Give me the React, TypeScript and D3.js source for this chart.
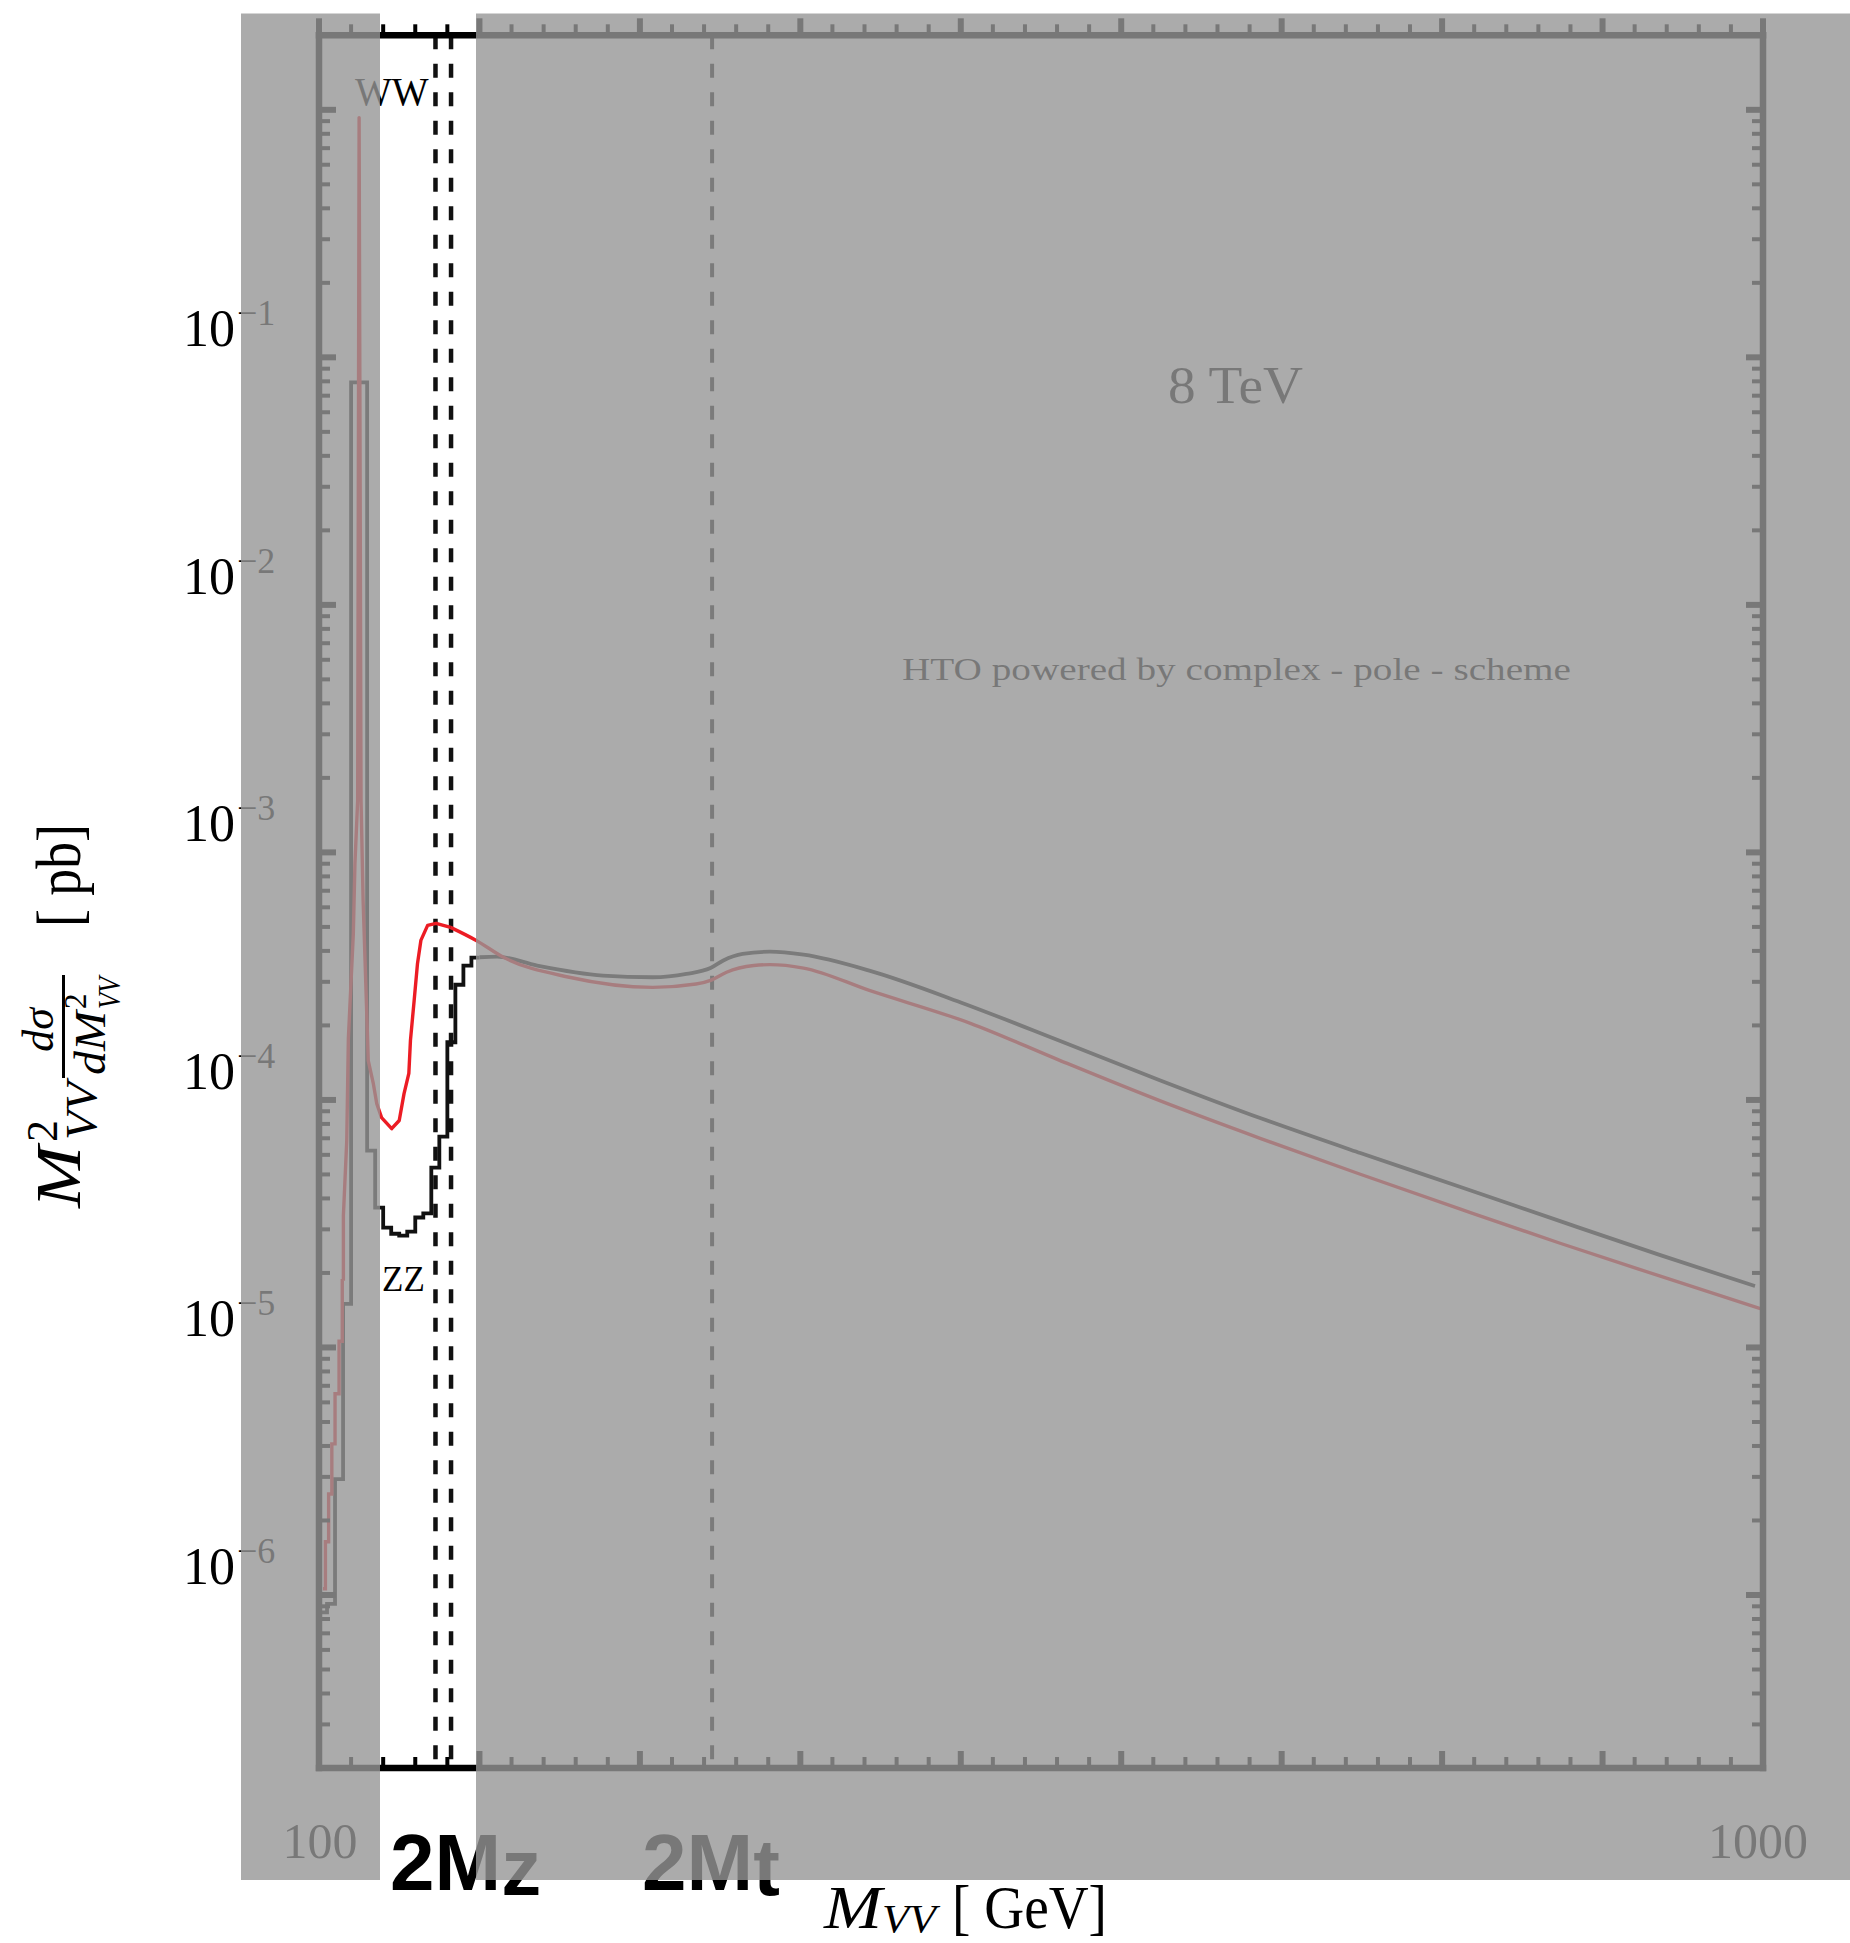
import React from 'react';
import * as d3 from 'd3';

const WIDTH = 1850;
const HEIGHT = 1943;

// Axis domains
const massDomain: [number, number] = [100, 1000];
const sigmaDomain: [number, number] = [2e-7, 2];

// Tick positions
const massMajorTicks = [100, 200, 300, 400, 500, 600, 700, 800, 900, 1000];
const massMinorSteps = [20, 40, 60, 80];
const sigmaDecades = [1e-6, 1e-5, 1e-4, 1e-3, 1e-2, 1e-1, 1];
const sigmaMinorFactors = [2, 3, 4, 5, 6, 7, 8, 9];
const sigmaLabelExponents = [-1, -2, -3, -4, -5, -6];
const massTickLabels = [
  { m: 100, text: '100', shift: 1 },
  { m: 1000, text: '1000', shift: -5 },
];

// Threshold markers (GeV)
const zzThresholds = [172.6, 182.3];
const topThreshold = 345;

// ZZ histogram near the Higgs peak (bin edges in GeV, contents in pb)
const zzBinEdges = [100, 105, 110, 115, 120, 130, 135, 140, 145, 150, 155, 160, 165, 170, 175, 180, 185, 190, 195, 200];
const zzBinValues = [8.5e-7, 9.2e-7, 2.94e-6, 1.5e-5, 0.0792, 6.24e-5, 3.67e-5, 3.05e-5, 2.88e-5, 2.83e-5, 2.94e-5, 3.35e-5, 3.48e-5, 5.33e-5, 7.11e-5, 1.71e-4, 2.92e-4, 3.49e-4, 3.76e-4];

// ZZ continuum above 200 GeV
const zzMass = [200, 211, 236, 277, 308, 329, 344, 352, 364, 381, 402, 443, 500, 562, 624, 687, 749, 811, 874, 936, 995];
const zzValues = [3.77e-4, 3.79e-4, 3.49e-4, 3.18e-4, 3.13e-4, 3.23e-4, 3.41e-4, 3.66e-4, 3.89e-4, 3.97e-4, 3.86e-4, 3.33e-4, 2.477e-4, 1.73e-4, 1.202e-4, 8.43e-5, 6.1e-5, 4.46e-5, 3.23e-5, 2.36e-5, 1.77e-5];

// WW line shape: binned rise below 115 GeV, then the resonance and continuum
const wwBinMass = [102.5, 104, 106, 108, 110, 112.5, 114.5, 115.2];
const wwBinValues = [1.06e-6, 1.64e-6, 2.56e-6, 4.08e-6, 6.5e-6, 1.06e-5, 1.86e-5, 1.86e-5];
const wwMass = [115.2, 117.3, 118.3, 121.4, 122.4, 124.1, 125, 126.2, 127.5, 128.7, 130.7, 133.9, 136, 139, 145.3, 150, 153, 156, 157, 159.3, 161.4, 163.5, 167.7, 173, 182, 198, 215, 256, 308, 335, 344.5, 354, 371, 381, 402, 443, 506, 562, 624, 687, 749, 811, 874, 936, 999];
const wwValues = [3.41e-5, 6.85e-5, 1.77e-4, 4.7e-4, 9.0e-4, 1.62e-3, 0.93, 1.62e-3, 6.38e-4, 3.66e-4, 1.44e-4, 1.16e-4, 9.66e-5, 8.48e-5, 7.65e-5, 8.26e-5, 1.06e-4, 1.28e-4, 1.74e-4, 2.52e-4, 3.56e-4, 4.41e-4, 5.07e-4, 5.17e-4, 4.98e-4, 4.41e-4, 3.77e-4, 3.13e-4, 2.85e-4, 2.94e-4, 3.05e-4, 3.28e-4, 3.49e-4, 3.52e-4, 3.41e-4, 2.77e-4, 2.04e-4, 1.442e-4, 9.93e-5, 6.98e-5, 5.01e-5, 3.63e-5, 2.63e-5, 1.94e-5, 1.43e-5];

const SERIF = "'Liberation Serif', 'DejaVu Serif', serif";
const SANS = "'Liberation Sans', Arial, sans-serif";

export default function App() {
  const x = d3.scaleLinear().domain(massDomain).range([319, 1763]);
  const y = d3.scaleLog().domain(sigmaDomain).range([1768, 35.3]);

  const left = x(massDomain[0]);
  const right = x(massDomain[1]);
  const top = y(sigmaDomain[1]);
  const bottom = y(sigmaDomain[0]);

  const stepLine = d3
    .line<[number, number]>()
    .x((d) => x(d[0]))
    .y((d) => y(d[1]))
    .curve(d3.curveStepAfter);
  const smoothLine = d3
    .line<[number, number]>()
    .x((d) => x(d[0]))
    .y((d) => y(d[1]))
    .curve(d3.curveMonotoneX);
  const plainLine = d3
    .line<[number, number]>()
    .x((d) => x(d[0]))
    .y((d) => y(d[1]));

  const zzHist: [number, number][] = zzBinValues.map((v, i) => [zzBinEdges[i], v]);
  zzHist.push([zzBinEdges[zzBinEdges.length - 1], zzBinValues[zzBinValues.length - 1]]);
  const zzCont: [number, number][] = zzMass.map((m, i) => [m, zzValues[i]]);
  const wwBins: [number, number][] = wwBinMass.map((m, i) => [m, wwBinValues[i]]);
  const wwAll: [number, number][] = wwMass.map((m, i) => [m, wwValues[i]]);
  // the resonance part continues from the last binned point
  const wwLow: [number, number][] = [wwBins[wwBins.length - 1], ...wwAll.filter((d) => d[0] <= 182)];
  const wwHigh = wwAll.filter((d) => d[0] >= 182);

  const massMinorTicks: number[] = [];
  massMajorTicks.slice(0, -1).forEach((m) => massMinorSteps.forEach((s) => massMinorTicks.push(m + s)));

  const sigmaMinorTicks: number[] = [];
  [1e-7, ...sigmaDecades].forEach((d) =>
    sigmaMinorFactors.forEach((f) => {
      const v = d * f;
      if (v > sigmaDomain[0] * 1.0001 && v < sigmaDomain[1] * 0.9999) sigmaMinorTicks.push(v);
    })
  );

  const axisColor = '#000';
  const majorLen = 17;
  const minorLen = 11;

  return (
    <svg
      width={WIDTH}
      height={HEIGHT}
      viewBox={`0 0 ${WIDTH} ${HEIGHT}`}
      style={{ position: 'absolute', left: 0, top: 0, background: '#fff' }}
    >
      {/* threshold markers */}
      {zzThresholds.map((m) => (
        <line key={m} x1={x(m)} x2={x(m)} y1={top} y2={bottom} stroke="#111" strokeWidth={4.5} strokeDasharray="14 14.5" />
      ))}
      <line x1={x(topThreshold)} x2={x(topThreshold)} y1={top} y2={bottom} stroke="#111" strokeWidth={4} strokeDasharray="14 14.5" />

      {/* curves */}
      <path d={stepLine(zzHist) ?? ''} fill="none" stroke="#111" strokeWidth={3.8} />
      <path d={smoothLine(zzCont) ?? ''} fill="none" stroke="#111" strokeWidth={3.8} />
      <path d={stepLine(wwBins) ?? ''} fill="none" stroke="#ec1c24" strokeWidth={3.4} />
      <path d={plainLine(wwLow) ?? ''} fill="none" stroke="#ec1c24" strokeWidth={3.4} strokeLinejoin="round" />
      <path d={smoothLine(wwHigh) ?? ''} fill="none" stroke="#ec1c24" strokeWidth={3.4} />

      {/* frame */}
      <g stroke={axisColor} strokeWidth={6.5} strokeLinecap="square">
        <line x1={left} x2={right} y1={bottom} y2={bottom} />
        <line x1={left} x2={right} y1={top} y2={top} />
        <line x1={left} x2={left} y1={top} y2={bottom} />
        <line x1={right} x2={right} y1={top} y2={bottom} />
      </g>

      {/* mass ticks (both pointing up) and cross-section ticks (pointing inward) */}
      <g stroke={axisColor}>
        {massMajorTicks.map((m) => (
          <g key={`M${m}`} strokeWidth={6}>
            <line x1={x(m)} x2={x(m)} y1={bottom} y2={bottom - majorLen} />
            <line x1={x(m)} x2={x(m)} y1={top} y2={top - majorLen} />
          </g>
        ))}
        {massMinorTicks.map((m) => (
          <g key={`m${m}`} strokeWidth={4}>
            <line x1={x(m)} x2={x(m)} y1={bottom} y2={bottom - minorLen} />
            <line x1={x(m)} x2={x(m)} y1={top} y2={top - minorLen} />
          </g>
        ))}
        {sigmaDecades.map((v) => (
          <g key={`S${v}`} strokeWidth={6}>
            <line x1={left} x2={left + majorLen} y1={y(v)} y2={y(v)} />
            <line x1={right} x2={right - majorLen} y1={y(v)} y2={y(v)} />
          </g>
        ))}
        {sigmaMinorTicks.map((v) => (
          <g key={`s${v}`} strokeWidth={4}>
            <line x1={left} x2={left + minorLen} y1={y(v)} y2={y(v)} />
            <line x1={right} x2={right - minorLen} y1={y(v)} y2={y(v)} />
          </g>
        ))}
      </g>

      {/* cross-section tick labels */}
      {sigmaLabelExponents.map((e) => {
        const yy = y(Math.pow(10, e)) - 11;
        return (
          <g key={`L${e}`} fontFamily={SERIF} fill="#000">
            <text x={235} y={yy} fontSize={52} textAnchor="end">10</text>
            <text x={237} y={yy - 21} fontSize={36}>{`\u2212${-e}`}</text>
          </g>
        );
      })}

      {/* mass tick labels */}
      {massTickLabels.map((t) => (
        <text key={t.text} x={x(t.m) + t.shift} y={1858} fontSize={50} fontFamily={SERIF} textAnchor="middle" fill="#000">
          {t.text}
        </text>
      ))}

      {/* annotations */}
      <text x={355} y={105} fontSize={39} fontFamily={SERIF} fill="#000">WW</text>
      <text x={382} y={1291} fontSize={35} fontFamily={SERIF} fill="#000">ZZ</text>
      <text x={1168} y={403} fontSize={52} fontFamily={SERIF} fill="#000" textLength={135} lengthAdjust="spacingAndGlyphs">
        8 TeV
      </text>
      <text x={902} y={680} fontSize={32} fontFamily={SERIF} fill="#000" textLength={669} lengthAdjust="spacingAndGlyphs">
        HTO powered by complex - pole - scheme
      </text>

      <text x={390} y={1890} fontSize={80} fontFamily={SANS} fontWeight="bold" fill="#000">
        2M<tspan dy={5}>z</tspan>
      </text>
      <text x={642} y={1890} fontSize={80} fontFamily={SANS} fontWeight="bold" fill="#000">
        2M<tspan dy={5}>t</tspan>
      </text>

      {/* x-axis title */}
      <g fontFamily={SERIF} fill="#000">
        <text x={824} y={1928} fontSize={62} fontStyle="italic" textLength={58} lengthAdjust="spacingAndGlyphs">M</text>
        <text x={882} y={1932} fontSize={40} fontStyle="italic" textLength={54} lengthAdjust="spacingAndGlyphs">VV</text>
        <text x={952} y={1928} fontSize={62} textLength={155} lengthAdjust="spacingAndGlyphs">[ GeV]</text>
      </g>

      {/* y-axis title */}
      <g transform="translate(80,1208) rotate(-90)" fontFamily={SERIF} fill="#000">
        <text x={0} y={0} fontSize={63} fontStyle="italic" textLength={62} lengthAdjust="spacingAndGlyphs">M</text>
        <text x={66} y={-23} fontSize={44}>2</text>
        <text x={68} y={16} fontSize={44} fontStyle="italic" textLength={58} lengthAdjust="spacingAndGlyphs">VV</text>
        <text x={178} y={-27} fontSize={44} fontStyle="italic" textAnchor="middle">dσ</text>
        <line x1={130} x2={233} y1={-16.5} y2={-16.5} stroke="#000" strokeWidth={3} />
        <text x={133} y={25} fontSize={44} fontStyle="italic" textLength={64} lengthAdjust="spacingAndGlyphs">dM</text>
        <text x={199} y={6} fontSize={31}>2</text>
        <text x={199} y={40} fontSize={31} fontStyle="italic" textLength={32} lengthAdjust="spacingAndGlyphs">VV</text>
        <text x={281} y={0} fontSize={63} textLength={103} lengthAdjust="spacingAndGlyphs">[ pb]</text>
      </g>

      {/* shaded overlays */}
      <g fill="rgb(150,150,150)" fillOpacity={0.8}>
        <rect x={241} y={13.5} width={380 - 241} height={1880 - 13.5} />
        <rect x={476} y={13.5} width={WIDTH - 476} height={1880 - 13.5} />
      </g>
    </svg>
  );
}
